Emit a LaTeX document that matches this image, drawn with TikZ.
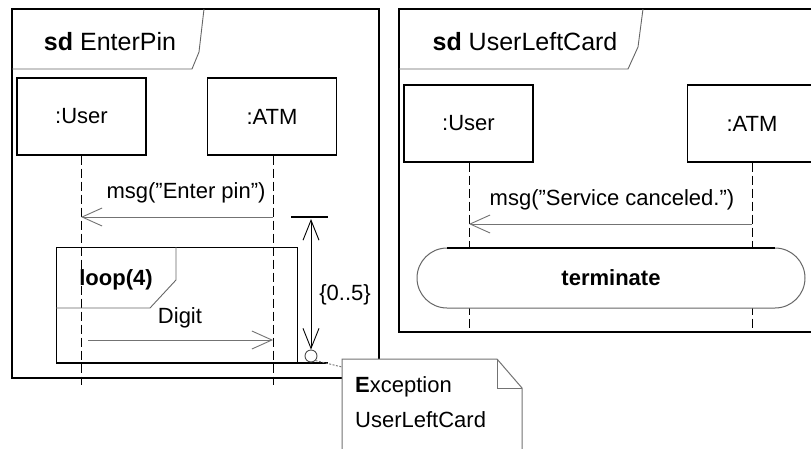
\documentclass[tikz,border=0pt]{standalone}
\usepackage{fontspec}
\setmainfont{Liberation Sans}
\usetikzlibrary{arrows.meta}
\begin{document}
\begin{tikzpicture}[x=1pt,y=-1pt,
  txt/.style={font=\fontsize{22}{26}\selectfont, inner sep=0pt},
  ttl/.style={font=\fontsize{25}{29}\selectfont, inner sep=0pt},
  frameline/.style={draw=black, line width=1.3pt},
  tabline/.style={draw=black!60, line width=0.9pt},
  obj/.style={draw=black, line width=1.1pt, fill=white, minimum width=129pt, minimum height=77pt, font=\fontsize{22}{26}\selectfont, inner sep=0pt},
  life/.style={draw=black, line width=0.9pt, dash pattern=on 9pt off 4pt},
  msgline/.style={draw=black!55, line width=1pt, -{Straight Barb[length=20pt,width=18pt,line width=0.9pt]}},
  notebox/.style={draw=black!55, line width=1pt},
]
\clip (0,0) rectangle (811,448);
\fill[white] (0,0) rectangle (811,448);

% ---------------- left frame: sd EnterPin ----------------
\draw[frameline] (12,9) rectangle (379,378);
\draw[tabline] (12,69) -- (192,69) -- (199,52) -- (204,9);
\node[ttl] (t1) at (110,42) {\textbf{sd} EnterPin};

\node[obj] (u1) at (81.5,116.5) {:User};
\node[obj] (a1) at (272,116.5) {:ATM};
\coordinate (u1e) at (81,385);
\coordinate (a1e) at (273,385);
\draw[life] (u1.south -| u1e) -- (u1e);
\draw[life] (a1.south -| a1e) -- (a1e);

\coordinate (m1a) at (273,217);
\coordinate (m1u) at (81,217);
\draw[msgline] (m1a) -- (m1u);
\node[txt] (m1l) at (186,193) {msg(”Enter pin”)};

% loop fragment
\draw[draw=black, line width=0.9pt] (56,363) -- (56,247) -- (297,247) -- (297,363);
\coordinate (lpbl) at (56,363);
\coordinate (lpbr) at (328,363);
\draw[draw=black, line width=1.5pt] (lpbl) -- (lpbr);
\draw[tabline] (56,308) -- (150,308) -- (176,280) -- (176,247);
\node[txt] (lp) at (116,280) {\textbf{loop(4)}};

\coordinate (d1s) at (88,340);
\coordinate (d1e) at (273,340);
\draw[msgline] (d1s) -- (d1e);
\node[txt] (dl) at (180,318) {Digit};

% duration constraint
\coordinate (barL) at (291,217);
\coordinate (barR) at (328,217);
\draw[line width=2pt] (barL) -- (barR);
\node[draw=black!70, circle, line width=0.9pt, minimum size=12pt, inner sep=0pt] (occ) at (311,356) {};
\coordinate (dtop) at (311,219);
\draw[draw=black, line width=0.9pt, {Straight Barb[length=20pt,width=16pt,line width=0.9pt]}-{Straight Barb[length=20pt,width=16pt,line width=0.9pt]}] (dtop) -- (occ.north);
\node[txt] (cst) at (345,295) {\{0..5\}};

% ---------------- right frame: sd UserLeftCard ----------------
\draw[frameline] (399,332) -- (399,9) -- (830,9) -- (830,332) -- cycle;
\draw[tabline] (399,69) -- (628,69) -- (638,47) -- (643,9);
\node[ttl] (t2) at (525,42) {\textbf{sd} UserLeftCard};

\node[obj] (u2) at (468.5,123.5) {:User};
\node[obj] (a2) at (752,123.5) {:ATM};
\coordinate (u2e) at (469,332);
\coordinate (a2e) at (752,332);
\draw[life] (u2.south -| u2e) -- (u2e);
\draw[life] (a2.south -| a2e) -- (a2e);

\coordinate (m2a) at (752,224);
\coordinate (m2u) at (469,224);
\draw[msgline] (m2a) -- (m2u);
\node[txt] (m2l) at (612,200) {msg(”Service canceled.”)};

\draw[draw=black!60, line width=1pt, fill=white, rounded corners=30pt] (417,248) rectangle (805,308);
\draw[draw=black, line width=1.4pt] (447,248) -- (775,248);
\node[txt] (term) at (611,278) {\textbf{terminate}};

% ---------------- note ----------------
\draw[notebox, fill=white] (342,470) -- (342,359) -- (497,359) -- (522,388) -- (522,470);
\draw[notebox] (497,359) -- (497,388) -- (522,388);
\coordinate (ntl) at (342,367);
\draw[draw=black!55, line width=0.9pt, dash pattern=on 2pt off 1.5pt] (occ.south east) -- (ntl);
\node[txt, anchor=west] (n1) at (355,387) {\textbf{E}xception};
\node[txt, anchor=west] (n2) at (355,420) {UserLeftCard};
\end{tikzpicture}
\end{document}
